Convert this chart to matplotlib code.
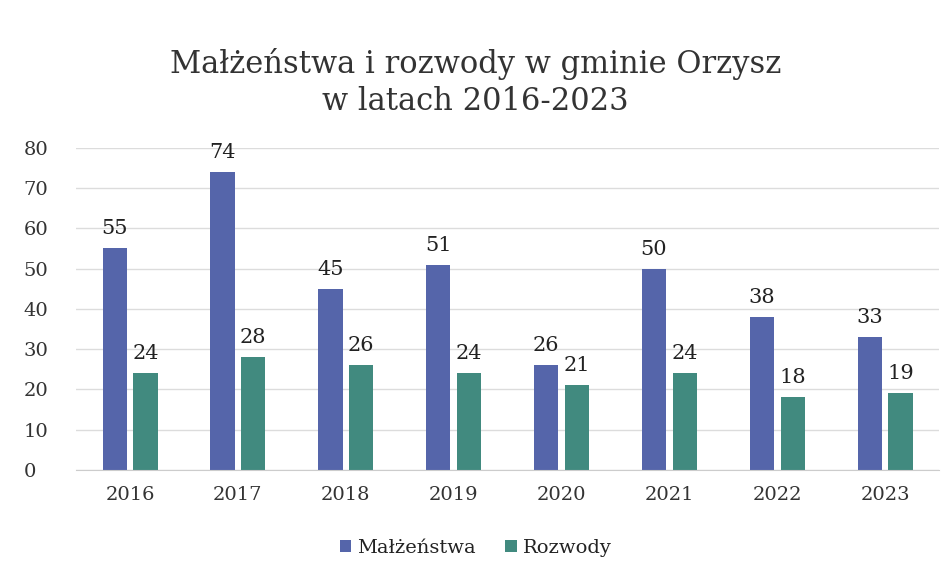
import matplotlib.pyplot as plt
import numpy as np

plt.rcParams['font.family'] = ['DejaVu Serif']

years = ['2016', '2017', '2018', '2019', '2020', '2021', '2022', '2023']
malzenstwa = [55, 74, 45, 51, 26, 50, 38, 33]
rozwody = [24, 28, 26, 24, 21, 24, 18, 19]

blue = '#5565aa'
teal = '#418a7f'

fig = plt.figure(figsize=(9.51, 5.8), dpi=100)
ax = fig.add_axes([0.080, 0.19, 0.9075, 0.555])

x = np.arange(len(years))
w = 0.225
gap = 0.03
b1 = ax.bar(x - w / 2 - gap, malzenstwa, w, color=blue, label='Małżeństwa')
b2 = ax.bar(x + w / 2 + gap, rozwody, w, color=teal, label='Rozwody')

for bars, vals in ((b1, malzenstwa), (b2, rozwody)):
    for b, v in zip(bars, vals):
        ax.text(b.get_x() + b.get_width() / 2, v + 2.5, str(v),
                ha='center', va='bottom', fontsize=15, color='#222222')

ax.set_ylim(0, 80)
ax.set_xlim(-0.5, len(years) - 0.5)
ax.set_yticks(range(0, 81, 10))
ax.set_xticks(x)
ax.set_xticklabels(years)
ax.tick_params(axis='both', length=0, labelsize=14, colors='#333333')
ax.tick_params(axis='y', pad=38)
ax.tick_params(axis='x', pad=12)
for lbl in ax.get_yticklabels():
    lbl.set_horizontalalignment('left')
ax.grid(axis='y', color='#dcdcdc', linewidth=1)
ax.set_axisbelow(True)
for s in ['top', 'right', 'left']:
    ax.spines[s].set_visible(False)
ax.spines['bottom'].set_color('#cccccc')

fig.suptitle('Małżeństwa i rozwody w gminie Orzysz\nw latach 2016-2023',
             y=0.918, fontsize=22, color='#333333', linespacing=1.25)

fig.legend(loc='lower center', bbox_to_anchor=(0.5, 0.01), ncol=2, frameon=False,
           fontsize=14, handlelength=0.6, handleheight=0.6, handletextpad=0.3,
           columnspacing=1.5, labelcolor='#222222')

fig.savefig('out.png', dpi=100)
